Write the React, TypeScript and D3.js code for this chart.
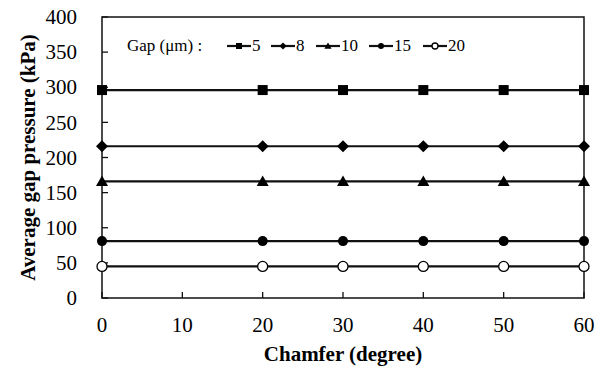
import React from 'react';
import * as d3 from 'd3';

// chamfer angles (degree) where values were sampled
const chamfers = [0, 20, 30, 40, 50, 60];
// gap sizes (um) and average gap pressure (kPa) per gap
const gaps = ['5', '8', '10', '15', '20'];
const pressures = [
  [296, 296, 296, 296, 296, 296],
  [216, 216, 216, 216, 216, 216],
  [166, 166, 166, 166, 166, 166],
  [81, 81, 81, 81, 81, 81],
  [45, 45, 45, 45, 45, 45],
];
const markers = ['square', 'diamond', 'triangle', 'circle', 'open'];
const xTicks = [0, 10, 20, 30, 40, 50, 60];
const yTicks = [0, 50, 100, 150, 200, 250, 300, 350, 400];

const W = 604;
const H = 367;
const margin = { top: 17, right: 20, bottom: 69, left: 102 };
const FONT = 'Liberation Serif';

const x = d3.scaleLinear().domain([0, 60]).range([margin.left, W - margin.right]);
const y = d3.scaleLinear().domain([0, 400]).range([H - margin.bottom, margin.top]);
const line = d3.line<number>().x((_, i) => x(chamfers[i])).y(d => y(d));

function Marker({ kind, cx, cy, s = 1 }: { kind: string; cx: number; cy: number; s?: number }) {
  if (kind === 'square') return <rect x={cx - 5 * s} y={cy - 5 * s} width={10 * s} height={10 * s} fill="#000" />;
  if (kind === 'diamond') {
    const r = 6 * s;
    return <path d={`M${cx},${cy - r}L${cx + r},${cy}L${cx},${cy + r}L${cx - r},${cy}Z`} fill="#000" />;
  }
  if (kind === 'triangle') {
    const r = 6 * s;
    return <path d={`M${cx},${cy - r}L${cx + r},${cy + r * 0.75}L${cx - r},${cy + r * 0.75}Z`} fill="#000" />;
  }
  if (kind === 'circle') return <circle cx={cx} cy={cy} r={5 * s} fill="#000" />;
  return <circle cx={cx} cy={cy} r={5 * s} fill="#fff" stroke="#000" strokeWidth={1.3} />;
}

export default function App() {
  const lx = [227, 271, 316, 369, 423];
  return (
    <svg width={W} height={H} style={{ display: 'block', position: 'absolute', left: 0, top: 0, fontFamily: FONT }}>
      <rect width={W} height={H} fill="#fff" />
      {/* frame */}
      <rect x={x(0)} y={y(400)} width={x(60) - x(0)} height={y(0) - y(400)} fill="none" stroke="#111" strokeWidth={1.5} />

      {/* x ticks, pointing inward */}
      {xTicks.map(t => (
        <g key={'x' + t}>
          <line x1={x(t)} x2={x(t)} y1={y(0)} y2={y(0) - 6} stroke="#111" strokeWidth={1.3} />
          <text x={x(t)} y={y(0) + 34} textAnchor="middle" style={{ fontFamily: FONT, fontSize: 21 }}>{t}</text>
        </g>
      ))}
      {/* y ticks, pointing inward */}
      {yTicks.map(t => (
        <g key={'y' + t}>
          <line x1={x(0)} x2={x(0) + 6} y1={y(t)} y2={y(t)} stroke="#111" strokeWidth={1.3} />
          <text x={x(0) - 25} y={y(t)} dy="0.34em" textAnchor="end" style={{ fontFamily: FONT, fontSize: 21 }}>{t}</text>
        </g>
      ))}

      {/* series */}
      {pressures.map((vals, si) => (
        <g key={'s' + si}>
          <path d={line(vals) || ''} fill="none" stroke="#111" strokeWidth={2.2} />
          {vals.map((v, i) => <Marker key={i} kind={markers[si]} cx={x(chamfers[i])} cy={y(v)} />)}
        </g>
      ))}

      {/* legend */}
      <text x={127} y={51} style={{ fontFamily: FONT, fontSize: 17 }}>Gap (μm) :</text>
      {gaps.map((g, i) => (
        <g key={'l' + g}>
          <line x1={lx[i]} x2={lx[i] + 24} y1={46} y2={46} stroke="#111" strokeWidth={2.2} />
          <Marker kind={markers[i]} cx={lx[i] + 12} cy={46} s={0.6} />
          <text x={lx[i] + 25} y={51} style={{ fontFamily: FONT, fontSize: 17 }}>{g}</text>
        </g>
      ))}

      {/* axis titles */}
      <text x={(x(0) + x(60)) / 2} y={361} textAnchor="middle" style={{ fontFamily: FONT, fontSize: 21, fontWeight: 'bold' }}>
        Chamfer (degree)
      </text>
      <text transform={`translate(35,${(y(0) + y(400)) / 2}) rotate(-90)`} textAnchor="middle"
        style={{ fontFamily: FONT, fontSize: 21, fontWeight: 'bold' }}>
        Average gap pressure (kPa)
      </text>
    </svg>
  );
}
